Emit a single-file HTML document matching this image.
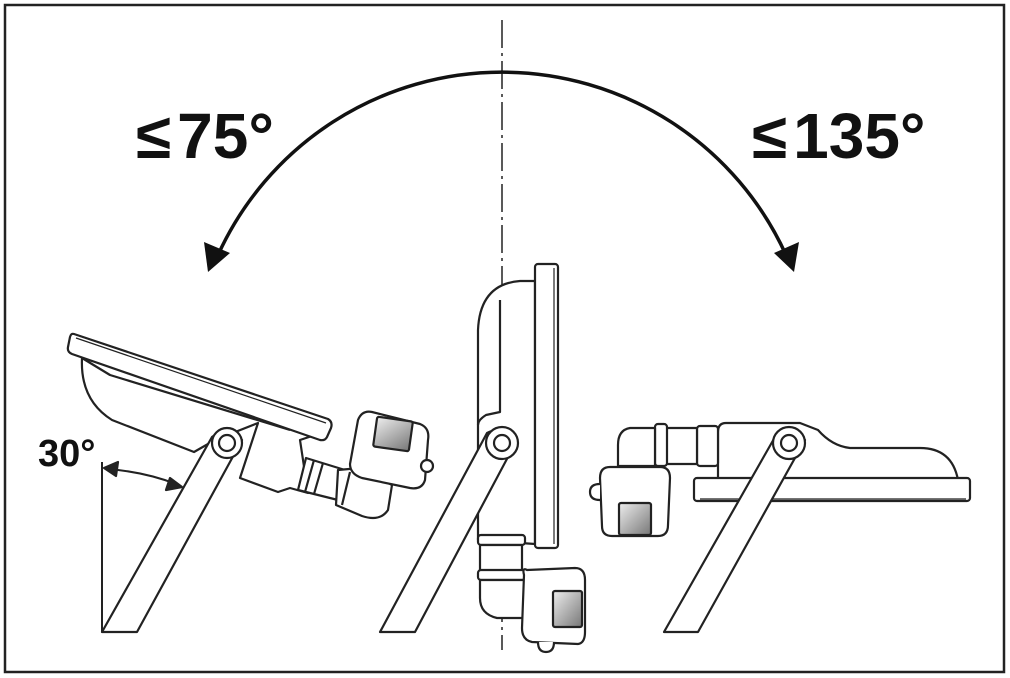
<!DOCTYPE html>
<html><head><meta charset="utf-8"><style>
html,body{margin:0;padding:0;background:#fff;}
svg{display:block;}
</style></head><body>
<svg width="1010" height="678" viewBox="0 0 1010 678" xmlns="http://www.w3.org/2000/svg">
<defs>
<linearGradient id="g" x1="0" y1="0" x2="1" y2="1"><stop offset="0" stop-color="#eee"/><stop offset="1" stop-color="#777"/></linearGradient>
</defs>
<rect x="0" y="0" width="1010" height="678" fill="#fff"/>
<rect x="5" y="5" width="999" height="667" fill="none" stroke="#222" stroke-width="2.5"/>
<line x1="502" y1="20" x2="502" y2="650" stroke="#222" stroke-width="1.5" stroke-dasharray="28,5,3,5"/>
<path d="M218,255 A312,312 0 0 1 786,255" fill="none" stroke="#111" stroke-width="3.5"/>
<polygon points="208,272 204,242 230,253" fill="#111"/>
<polygon points="794,272 774,253 799,242" fill="#111"/>
<text x="136" y="158" font-family="Liberation Sans, sans-serif" font-weight="bold" font-size="64" fill="#111">≤<tspan dx="6">75°</tspan></text>
<text x="752" y="158" font-family="Liberation Sans, sans-serif" font-weight="bold" font-size="64" fill="#111">≤<tspan dx="6">135°</tspan></text>
<text x="38" y="466" font-family="Liberation Sans, sans-serif" font-weight="bold" font-size="38" fill="#111">30°</text>

<g fill="#fff" stroke="#222" stroke-width="2.2" stroke-linejoin="round">
<!-- LEFT LAMP -->
<line x1="102" y1="462" x2="102" y2="632" stroke-width="2"/>
<path d="M108,469 Q145,472 176,484" fill="none" stroke-width="2"/>
<polygon points="104,468 118,462 116,476" fill="#222"/>
<polygon points="182,487 166,490 170,478" fill="#222"/>
<path d="M82,358 Q80,400 112,420 L194,452 L215,440 L258,423 L240,478 L278,492 L290,488 L308,493 L300,440 L330,430 Z"/>
<path d="M82,358 L110,375 L290,430" fill="none"/>
<path d="M74,334 L328,419 Q333,422 331,428 L327,437 Q325,441 320,440 L72,354 Q67,352 68,347 L70,337 Q71,333 74,334 Z"/>
<line x1="76" y1="338" x2="326" y2="423" stroke-width="1.2"/>
<path d="M306,458 L345,470 L338,500 L298,490 Z"/>
<line x1="314" y1="460" x2="305" y2="492"/>
<line x1="323" y1="463" x2="314" y2="494"/>
<path d="M338,470 L360,468 L392,485 L388,510 Q380,522 362,516 L336,505 Z"/>
<line x1="350" y1="472" x2="342" y2="505"/>
<path d="M358,420 Q362,410 372,412 L420,424 Q430,428 428,440 L425,480 Q422,490 410,488 L362,478 Q350,474 350,464 Z"/>
<rect x="375" y="419" width="36" height="30" rx="2" fill="url(#g)" transform="rotate(8 393 434)"/>
<circle cx="427" cy="466" r="6"/>
<path d="M212,437 Q227,425 242,440 L137,632 L102,632 Z"/>
<circle cx="227" cy="443" r="15"/>
<circle cx="227" cy="443" r="8"/>

<!-- MIDDLE LAMP -->
<path d="M478,540 L478,330 Q480,284 520,281 L535,281 L535,544 Z"/>
<path d="M478,425 Q478,420 486,415 L500,412 L500,300" fill="none"/>
<rect x="535" y="264" width="23" height="284" rx="3"/>
<line x1="554" y1="268" x2="554" y2="544" stroke-width="1.2"/>
<rect x="478" y="535" width="47" height="10" rx="3"/>
<rect x="480" y="545" width="42" height="27"/>
<rect x="478" y="570" width="47" height="10" rx="3"/>
<path d="M480,580 L525,580 L525,618 L497,618 Q480,614 480,598 Z"/>
<path d="M527,570 Q522,567 524,575 L522,628 Q522,640 532,642 L578,644 Q585,643 585,632 L585,580 Q585,568 575,568 Z"/>
<rect x="553" y="591" width="29" height="36" rx="2" fill="url(#g)"/>
<path d="M538,642 Q538,652 546,652 Q554,652 554,642" />
<path d="M487,433 Q502,425 517,440 L415,632 L380,632 Z"/>
<circle cx="502" cy="443" r="16"/>
<circle cx="502" cy="443" r="8"/>

<!-- RIGHT LAMP -->
<path d="M718,485 L718,432 Q718,423 726,423 L770,423 L775,423 L800,423 L818,430 Q832,446 850,448 L920,448 Q952,448 958,480 L958,485 Z"/>
<rect x="694" y="478" width="276" height="23" rx="3"/>
<line x1="700" y1="499" x2="966" y2="499" stroke-width="1.2"/>
<rect x="697" y="426" width="21" height="40" rx="3"/>
<rect x="663" y="428" width="34" height="36"/>
<rect x="655" y="424" width="12" height="42" rx="3"/>
<path d="M655,428 L630,428 Q618,430 618,445 L618,466 L655,466 Z"/>
<path d="M600,478 Q600,467 610,467 L660,467 Q670,467 670,478 L668,525 Q668,536 658,536 L612,536 Q602,536 602,526 Z"/>
<rect x="619" y="503" width="32" height="32" rx="2" fill="url(#g)"/>
<path d="M600,484 Q590,484 590,492 Q590,500 600,500"/>
<path d="M775,437 Q790,425 805,440 L698,632 L664,632 Z"/>
<circle cx="789" cy="443" r="16"/>
<circle cx="789" cy="443" r="8"/>
</g>
</svg>
</body></html>
